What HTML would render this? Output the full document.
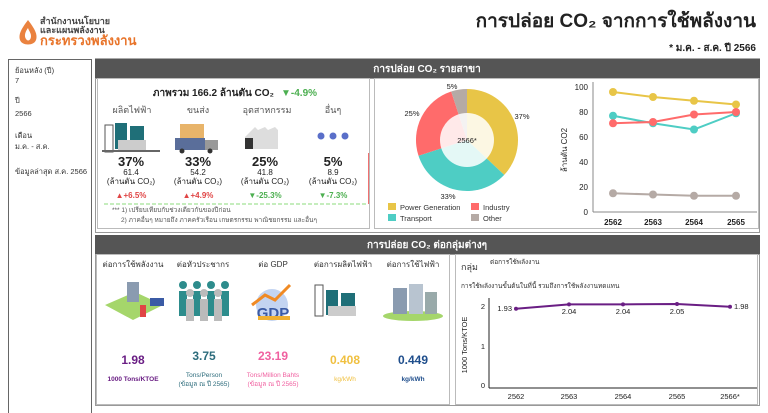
<!DOCTYPE html>
<html><head><meta charset="utf-8"><style>
html,body{margin:0;padding:0;background:#fff;}
svg{display:block;font-family:"Liberation Sans","DejaVu Sans",sans-serif;}
</style></head><body>
<svg width="768" height="413" viewBox="0 0 768 413" xmlns="http://www.w3.org/2000/svg">
<!-- logo -->
<g fill="#E8742A">
<path d="M28 20 C22 28 18 34 20 40 C22 46 34 46 36 40 C38 34 34 28 28 20Z" opacity="0.9"/>
<path d="M28 28 C25 32 24 36 26 39 C28 42 31 40 31 36 C31 33 29 31 28 28Z" fill="#fff"/>
</g>
<text x="40" y="24" font-size="9" font-weight="bold" fill="#444">สำนักงานนโยบาย</text>
<text x="40" y="33" font-size="9" font-weight="bold" fill="#444">และแผนพลังงาน</text>
<text x="40" y="45" font-size="13" font-weight="bold" fill="#E8742A">กระทรวงพลังงาน</text>
<!-- title -->
<text x="756" y="27" font-size="19" font-weight="bold" fill="#222" text-anchor="end">การปล่อย CO₂ จากการใช้พลังงาน</text>
<text x="756" y="51" font-size="10" font-weight="bold" fill="#222" text-anchor="end">* ม.ค. - ส.ค. ปี 2566</text>
<line x1="95" y1="59" x2="760" y2="59" stroke="#555"/>
<!-- sidebar -->
<rect x="8.5" y="59.5" width="83" height="360" fill="#fff" stroke="#666"/>
<g font-size="7.5" fill="#333">
<text x="15" y="73">ย้อนหลัง (ปี)</text><text x="15" y="83">7</text>
<text x="15" y="103">ปี</text><text x="15" y="116">2566</text>
<text x="15" y="138">เดือน</text><text x="15" y="149">ม.ค. - ส.ค.</text>
<text x="15" y="174">ข้อมูลล่าสุด ส.ค. 2566</text>
</g>
<!-- top panel -->
<rect x="95" y="59" width="665" height="19" fill="#555"/>
<text x="427" y="72" font-size="10" font-weight="bold" fill="#fff" text-anchor="middle">การปล่อย CO₂ รายสาขา</text>
<rect x="95.5" y="78.5" width="664" height="154" fill="#fff" stroke="#999"/>
<rect x="97.5" y="78.5" width="272" height="150" fill="#fff" stroke="#bbb"/>
<rect x="374.5" y="78.5" width="384" height="150" fill="#fff" stroke="#bbb"/>
<text x="274" y="96" font-size="10" font-weight="bold" fill="#222" text-anchor="end">ภาพรวม 166.2 ล้านตัน CO₂</text>
<text x="281" y="96" font-size="10" font-weight="bold" fill="#4CAF50">▼-4.9%</text>
<g font-size="9" fill="#555" text-anchor="middle">
<text x="132" y="113">ผลิตไฟฟ้า</text><text x="198" y="113">ขนส่ง</text><text x="267" y="113">อุตสาหกรรม</text><text x="333" y="113">อื่นๆ</text>
</g>
<!-- sector icons -->
<g>
<rect x="105" y="125" width="8" height="27" fill="none" stroke="#555"/>
<rect x="115" y="123" width="12" height="26" fill="#1F6F78"/><rect x="130" y="126" width="14" height="23" fill="#1F6F78"/>
<rect x="118" y="140" width="28" height="10" fill="#ccc"/><rect x="102" y="150" width="58" height="2" fill="#666"/>
<rect x="180" y="124" width="24" height="14" fill="#E8B46A"/><rect x="175" y="138" width="30" height="12" fill="#5A6E9A"/><rect x="205" y="140" width="13" height="10" fill="#999"/>
<circle cx="182" cy="151" r="2.5" fill="#333"/><circle cx="210" cy="151" r="2.5" fill="#333"/>
<path d="M245 137 L255 127 L258 130 L265 127 L268 130 L275 127 L278 130 L278 149 L245 149Z" fill="#ddd"/>
<rect x="245" y="138" width="8" height="11" fill="#333"/>
<circle cx="321" cy="136" r="3.5" fill="#5A6FC9"/><circle cx="333" cy="136" r="3.5" fill="#5A6FC9"/><circle cx="345" cy="136" r="3.5" fill="#5A6FC9"/>
</g>
<g text-anchor="middle" fill="#222">
<g font-size="13" font-weight="bold"><text x="131" y="166">37%</text><text x="198" y="166">33%</text><text x="265" y="166">25%</text><text x="333" y="166">5%</text></g>
<g font-size="8"><text x="131" y="175">61.4</text><text x="198" y="175">54.2</text><text x="265" y="175">41.8</text><text x="333" y="175">8.9</text>
<text x="131" y="184">(ล้านตัน CO₂)</text><text x="198" y="184">(ล้านตัน CO₂)</text><text x="265" y="184">(ล้านตัน CO₂)</text><text x="333" y="184">(ล้านตัน CO₂)</text></g>
<g font-size="8" font-weight="bold"><text x="131" y="198" fill="#E04545">▲+6.5%</text><text x="198" y="198" fill="#E04545">▲+4.9%</text><text x="265" y="198" fill="#4CAF50">▼-25.3%</text><text x="333" y="198" fill="#4CAF50">▼-7.3%</text></g>
</g>
<line x1="104" y1="204" x2="368" y2="204" stroke="#8BDB7B" stroke-dasharray="4,2"/>
<line x1="368.5" y1="153" x2="368.5" y2="204" stroke="#F07070"/>
<text x="112" y="212" font-size="6.5" fill="#555">*** 1) เปรียบเทียบกับช่วงเดียวกันของปีก่อน</text>
<text x="121" y="222" font-size="6.5" fill="#555">2) ภาคอื่นๆ หมายถึง ภาคครัวเรือน เกษตรกรรม พาณิชยกรรม และอื่นๆ</text>
<!-- pie -->
<path d="M467 140 L467 89 A51 51 0 0 1 504.2 174.9Z" fill="#E8C547"/>
<path d="M467 140 L504.2 174.9 A51 51 0 0 1 418.5 155.8Z" fill="#4ECDC4"/>
<path d="M467 140 L418.5 155.8 A51 51 0 0 1 451.2 91.5Z" fill="#FF6B6B"/>
<path d="M467 140 L451.2 91.5 A51 51 0 0 1 467 89Z" fill="#B5AAA5"/>
<circle cx="467" cy="140" r="27" fill="#fff" opacity="0.85"/>
<g font-size="7.5" fill="#222" text-anchor="middle">
<text x="467" y="143">2566*</text><text x="522" y="119">37%</text><text x="412" y="116">25%</text><text x="452" y="89">5%</text><text x="448" y="199">33%</text>
</g>
<g font-size="7.5" fill="#333">
<rect x="388" y="203" width="8" height="7" fill="#E8C547"/><text x="400" y="210">Power Generation</text>
<rect x="471" y="203" width="8" height="7" fill="#FF6B6B"/><text x="483" y="210">Industry</text>
<rect x="388" y="214" width="8" height="7" fill="#4ECDC4"/><text x="400" y="221">Transport</text>
<rect x="471" y="214" width="8" height="7" fill="#B5AAA5"/><text x="483" y="221">Other</text>
</g>
<!-- line chart -->
<line x1="593" y1="82" x2="593" y2="212" stroke="#888"/><line x1="593" y1="212" x2="757" y2="212" stroke="#888"/>
<g font-size="8" fill="#222" text-anchor="end">
<text x="588" y="215">0</text><text x="588" y="190">20</text><text x="588" y="165">40</text><text x="588" y="140">60</text><text x="588" y="115">80</text><text x="588" y="90">100</text>
</g>
<g font-size="8" font-weight="bold" fill="#222" text-anchor="middle">
<text x="613" y="225">2562</text><text x="653" y="225">2563</text><text x="694" y="225">2564</text><text x="736" y="225">2565</text>
</g>
<text transform="translate(567,150) rotate(-90)" font-size="8" fill="#222" text-anchor="middle">ล้านตัน CO2</text>
<g stroke-width="2" fill="none">
<polyline points="613,92 653,97 694,100.75 736,104.5" stroke="#E8C547"/>
<polyline points="613,115.75 653,123.25 694,129.5 736,113.25" stroke="#4ECDC4"/>
<polyline points="613,123.25 653,122 694,114.5 736,112" stroke="#FF6B6B"/>
<polyline points="613,193.25 653,194.5 694,195.75 736,195.75" stroke="#B5AAA5"/>
</g>
<g>
<g fill="#E8C547"><circle cx="613" cy="92" r="4"/><circle cx="653" cy="97" r="4"/><circle cx="694" cy="100.75" r="4"/><circle cx="736" cy="104.5" r="4"/></g>
<g fill="#4ECDC4"><circle cx="613" cy="115.75" r="4"/><circle cx="653" cy="123.25" r="4"/><circle cx="694" cy="129.5" r="4"/><circle cx="736" cy="113.25" r="4"/></g>
<g fill="#FF6B6B"><circle cx="613" cy="123.25" r="4"/><circle cx="653" cy="122" r="4"/><circle cx="694" cy="114.5" r="4"/><circle cx="736" cy="112" r="4"/></g>
<g fill="#B5AAA5"><circle cx="613" cy="193.25" r="4"/><circle cx="653" cy="194.5" r="4"/><circle cx="694" cy="195.75" r="4"/><circle cx="736" cy="195.75" r="4"/></g>
</g>
<!-- bottom panel -->
<rect x="95" y="235" width="665" height="19" fill="#555"/>
<text x="427" y="248" font-size="10" font-weight="bold" fill="#fff" text-anchor="middle">การปล่อย CO₂ ต่อกลุ่มต่างๆ</text>
<rect x="95.5" y="254.5" width="664" height="151" fill="#fff" stroke="#999"/>
<rect x="96.5" y="254.5" width="353" height="150" fill="#fff" stroke="#bbb"/>
<rect x="455.5" y="254.5" width="302" height="150" fill="#fff" stroke="#bbb"/>
<g font-size="8" fill="#333" text-anchor="middle">
<text x="133" y="267">ต่อการใช้พลังงาน</text><text x="203" y="267">ต่อหัวประชากร</text><text x="273" y="267">ต่อ GDP</text><text x="343" y="267">ต่อการผลิตไฟฟ้า</text><text x="413" y="267">ต่อการใช้ไฟฟ้า</text>
</g>
<!-- bottom icons -->
<g>
<path d="M105 305 L135 292 L163 305 L133 320Z" fill="#A5D66B"/><rect x="127" y="282" width="12" height="20" fill="#8A9BB0"/><rect x="140" y="305" width="6" height="12" fill="#E04545"/>
<rect x="150" y="298" width="14" height="8" fill="#3B5BA5"/>
<g fill="#2D8C8C"><circle cx="183" cy="285" r="4"/><circle cx="197" cy="285" r="4"/><circle cx="211" cy="285" r="4"/><circle cx="225" cy="285" r="4"/>
<rect x="179" y="291" width="8" height="25"/><rect x="193" y="291" width="8" height="25"/><rect x="207" y="291" width="8" height="25"/><rect x="221" y="291" width="8" height="25"/></g>
<g fill="#bbb"><circle cx="190" cy="293" r="4"/><circle cx="204" cy="293" r="4"/><circle cx="218" cy="293" r="4"/><rect x="186" y="299" width="8" height="22"/><rect x="200" y="299" width="8" height="22"/><rect x="214" y="299" width="8" height="22"/></g>
<circle cx="272" cy="305" r="16" fill="#9BB8E8" opacity="0.6"/><path d="M252 305 L265 295 L275 300 L290 285" stroke="#F08A24" stroke-width="3" fill="none"/>
<text x="273" y="318" font-size="15" font-weight="bold" fill="#3B5BA5" text-anchor="middle">GDP</text><rect x="258" y="316" width="32" height="4" fill="#F0B030"/>
<rect x="315" y="285" width="8" height="31" fill="none" stroke="#555"/><rect x="326" y="290" width="12" height="25" fill="#1F6F78"/><rect x="341" y="293" width="14" height="22" fill="#1F6F78"/><rect x="328" y="306" width="28" height="10" fill="#ccc"/>
<ellipse cx="413" cy="316" rx="30" ry="5" fill="#A5D66B"/><rect x="393" y="288" width="14" height="26" fill="#8A9BB0"/><rect x="409" y="284" width="14" height="30" fill="#B8C4D0"/><rect x="425" y="292" width="12" height="22" fill="#9AA"/>
</g>
<g text-anchor="middle" font-weight="bold">
<g font-size="12"><text x="133" y="364" fill="#6A1E84">1.98</text><text x="204" y="360" fill="#2D6C7C">3.75</text><text x="273" y="360" fill="#F060A0">23.19</text><text x="345" y="364" fill="#F0C040">0.408</text><text x="413" y="364" fill="#1F4E8C">0.449</text></g>
<g font-size="6.5"><text x="133" y="381" fill="#6A1E84">1000 Tons/KTOE</text><text x="413" y="381" fill="#1F4E8C">kg/kWh</text><text x="345" y="381" fill="#F0C040" font-weight="normal">kg/kWh</text></g>
<g font-size="6.5" font-weight="normal"><text x="204" y="377" fill="#2D6C7C">Tons/Person</text><text x="204" y="386" fill="#2D6C7C">(ข้อมูล ณ ปี 2565)</text>
<text x="273" y="377" fill="#F060A0">Tons/Million Bahts</text><text x="273" y="386" fill="#F060A0">(ข้อมูล ณ ปี 2565)</text></g>
</g>
<!-- bottom right chart -->
<text x="461" y="270" font-size="9" fill="#333">กลุ่ม</text>
<text x="490" y="264" font-size="6.5" fill="#333">ต่อการใช้พลังงาน</text>
<text x="461" y="288" font-size="6.5" fill="#333">การใช้พลังงานขั้นต้นในที่นี้ รวมถึงการใช้พลังงานทดแทน</text>
<line x1="489" y1="298" x2="489" y2="388" stroke="#222"/><line x1="489" y1="388" x2="757" y2="388" stroke="#222"/>
<g font-size="7.5" fill="#222" text-anchor="middle"><text x="483" y="309">2</text><text x="483" y="349">1</text><text x="483" y="388">0</text>
<text x="516" y="399">2562</text><text x="569" y="399">2563</text><text x="623" y="399">2564</text><text x="677" y="399">2565</text><text x="730" y="399">2566*</text></g>
<text transform="translate(467,345) rotate(-90)" font-size="7.5" fill="#222" text-anchor="middle">1000 Tons/KTOE</text>
<polyline points="516,308.8 569,304.4 623,304.4 677,304 730,306.8" stroke="#6A1E84" stroke-width="2" fill="none"/>
<g fill="#6A1E84"><circle cx="516" cy="308.8" r="2"/><circle cx="569" cy="304.4" r="2"/><circle cx="623" cy="304.4" r="2"/><circle cx="677" cy="304" r="2"/><circle cx="730" cy="306.8" r="2"/></g>
<g font-size="7.5" fill="#222"><text x="512" y="311" text-anchor="end">1.93</text><text x="569" y="314" text-anchor="middle">2.04</text><text x="623" y="314" text-anchor="middle">2.04</text><text x="677" y="314" text-anchor="middle">2.05</text><text x="734" y="309">1.98</text></g>
</svg>
</body></html>
